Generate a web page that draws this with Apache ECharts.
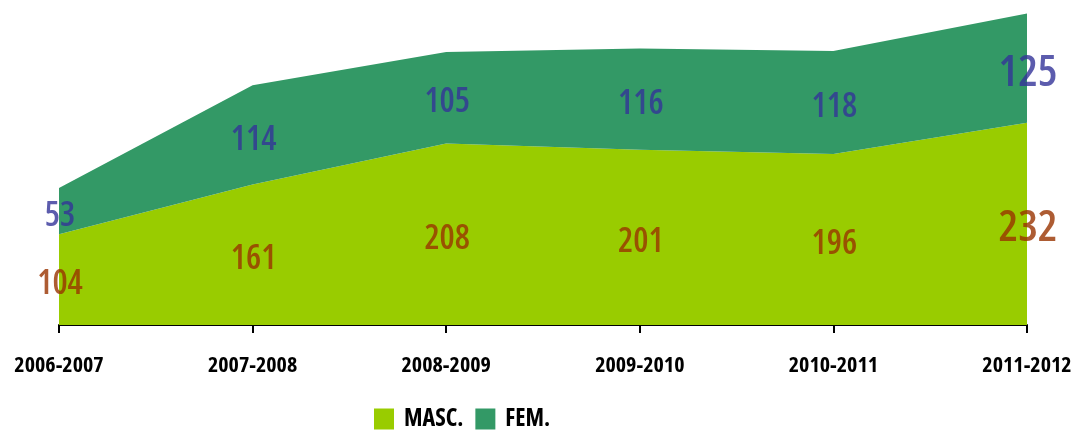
<!DOCTYPE html>
<html>
<head>
<meta charset="utf-8">
<script src="https://cdn.jsdelivr.net/npm/echarts@6/dist/echarts.min.js"></script>
<style>
  html, body { margin: 0; padding: 0; background: #fff; }
  #chart { width: 1075px; height: 430px; }
</style>
</head>
<body>
<div id="chart"></div>
<script>
// data
var years = ['2006-2007', '2007-2008', '2008-2009', '2009-2010', '2010-2011', '2011-2012'];
var masc = [104, 161, 208, 201, 196, 232];
var fem = [53, 114, 105, 116, 118, 125];

// pick the narrowest font face that is actually installed
var candidates = [
    { style: 'normal', family: '"Liberation Sans Narrow"' },
    { style: 'normal', family: '"DejaVu Sans Condensed"' },
    { style: 'condensed', family: '"DejaVu Sans"' },
    { style: 'semi-condensed', family: '"DejaVu Sans"' },
    { style: 'condensed', family: '"Noto Sans"' },
    { style: 'condensed', family: 'Roboto' },
    { style: 'condensed', family: '"Open Sans"' },
    { style: 'normal', family: '"DejaVu Sans"' }
];
var ctx = document.createElement('canvas').getContext('2d');
var best = candidates[candidates.length - 1], bestW = 1e9;
candidates.forEach(function (c) {
    ctx.font = '10px serif';
    ctx.font = c.style + ' bold 40px ' + c.family;
    if (ctx.font.indexOf('serif') === 0 || ctx.font === '10px serif') return;
    var w = ctx.measureText('2006-2007 MASC.').width;
    if (w < bestW) { bestW = w; best = c; }
});
var FSTYLE = best.style;
var FONT = best.family + ', sans-serif';

// label anchors: middle of each band
var mascMid = masc.map(function (v, i) {
    return { value: v / 2, raw: v, big: i === masc.length - 1 };
});
var femMid = fem.map(function (v, i) {
    return { value: masc[i] + v / 2, raw: v, big: i === fem.length - 1 };
});

function labelItems(arr, color) {
    return arr.map(function (d) {
        return {
            value: d.value,
            label: {
                show: true,
                position: 'inside',
                offset: [1, 5],
                formatter: String(d.raw),
                color: color,
                textBorderWidth: 0,
                textBorderColor: 'transparent',
                fontStyle: FSTYLE,
                fontFamily: FONT,
                fontWeight: 600,
                fontSize: d.big ? 44 : 34
            }
        };
    });
}

var chart = echarts.init(document.getElementById('chart'));
chart.setOption({
    animation: false,
    grid: { left: 59, right: 48, top: 11, bottom: 105, containLabel: false, outerBoundsMode: 'none' },
    legend: {
        left: 374,
        top: 407,
        padding: 0,
        itemWidth: 20,
        itemHeight: 21,
        itemGap: 12,
        icon: 'rect',
        data: ['MASC.', 'FEM.'],
        textStyle: { fontStyle: FSTYLE, fontFamily: FONT, fontSize: 24, fontWeight: 'bold', color: '#000', padding: [0, 0, 0, 5] }
    },
    xAxis: {
        type: 'category',
        boundaryGap: false,
        data: years,
        axisLine: { lineStyle: { color: '#000', width: 2 } },
        axisTick: { show: true, length: 8, alignWithLabel: true, lineStyle: { color: '#000', width: 2 } },
        axisLabel: { margin: 30, color: '#000', fontStyle: FSTYLE, fontFamily: FONT, fontSize: 22, fontWeight: 'bold', interval: 0 }
    },
    yAxis: {
        type: 'value',
        min: 0,
        max: 360,
        show: false,
        splitLine: { show: false }
    },
    series: [
        {
            name: 'MASC.',
            type: 'line',
            stack: 'total',
            z: 1,
            data: masc,
            symbol: 'none',
            lineStyle: { width: 0 },
            itemStyle: { color: '#99CC00' },
            areaStyle: { color: '#99CC00', opacity: 1 }
        },
        {
            name: 'FEM.',
            type: 'line',
            stack: 'total',
            z: 1,
            data: fem,
            symbol: 'none',
            lineStyle: { width: 0 },
            itemStyle: { color: '#339966' },
            areaStyle: { color: '#339966', opacity: 1 }
        },
        {
            type: 'scatter',
            symbolSize: 0,
            silent: true,
            z: 10,
            data: labelItems(mascMid, '#993300')
        },
        {
            type: 'scatter',
            symbolSize: 0,
            silent: true,
            z: 10,
            data: labelItems(femMid, '#333399')
        }
    ]
});
</script>
</body>
</html>
